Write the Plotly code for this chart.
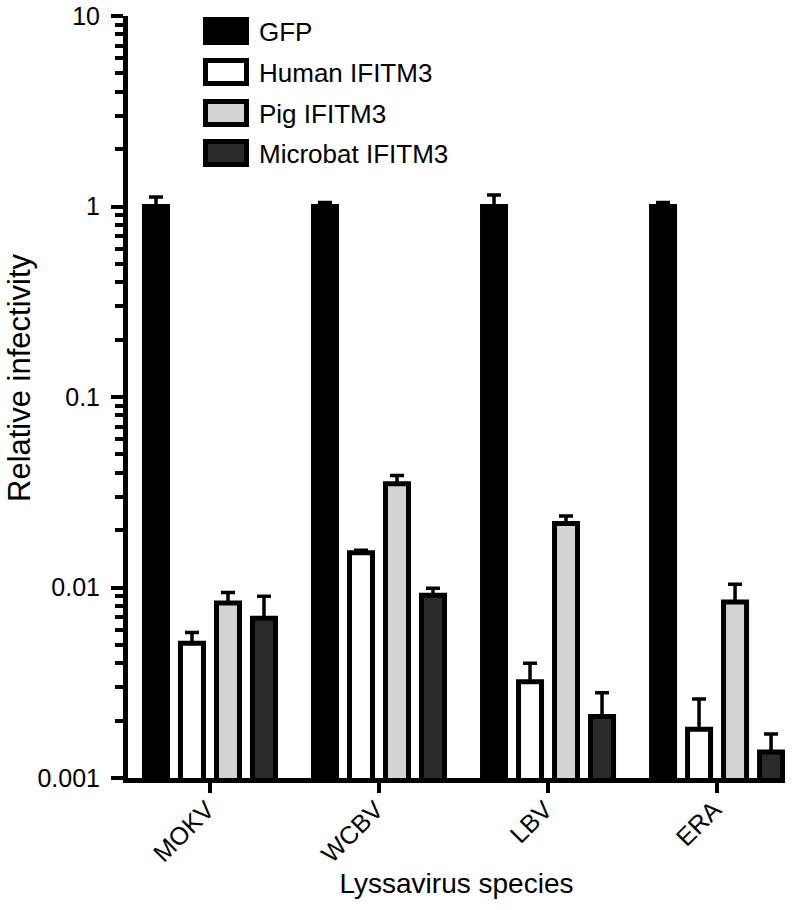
import plotly.graph_objects as go

categories = ["MOKV", "WCBV", "LBV", "ERA"]
series_names = ["GFP", "Human IFITM3", "Pig IFITM3", "Microbat IFITM3"]
gfp = [1.0, 1.0, 1.0, 1.0]
gfp_top = [1.12, 1.05, 1.15, 1.05]
human = [0.0051, 0.0152, 0.0032, 0.0018]
human_top = [0.0058, 0.0157, 0.0040, 0.0026]
pig = [0.0083, 0.035, 0.0217, 0.0084]
pig_top = [0.0094, 0.0387, 0.0237, 0.0104]
microbat = [0.0069, 0.0091, 0.0021, 0.00137]
microbat_top = [0.0090, 0.0099, 0.0028, 0.0017]
y_tickvals = [0.001, 0.01, 0.1, 1, 10]
y_ticktext = ["0.001", "0.01", "0.1", "1", "10"]

fills = ["#000000", "#ffffff", "#d3d3d3", "#2a2a2a"]
values = [gfp, human, pig, microbat]
tops = [gfp_top, human_top, pig_top, microbat_top]

FONT = "Liberation Sans, Arial, Helvetica, sans-serif"
W, H = 801, 910
# plot area in page pixels: x 128..785, y 16..778
L, R, T, B = 128, 801 - 785, 16, 910 - 778

fig = go.Figure()
for name, vals, top, col in zip(series_names, values, tops, fills):
    fig.add_trace(go.Bar(
        x=categories, y=vals, name=name,
        marker=dict(color=col, line=dict(color="#000000", width=5)),
        error_y=dict(type="data", symmetric=False,
                     array=[t - v for t, v in zip(top, vals)],
                     arrayminus=[0] * len(vals),
                     color="#000000", thickness=3.5, width=7),
        showlegend=False,
    ))

# custom legend (paper coordinates derived from pixel layout)
pw, ph = 785 - 128, 778 - 16
def px(x):
    return (x - 128) / pw
def py(y):
    return (778 - y) / ph

shapes = []
annotations = []
centers = [31, 72, 113, 153]
for name, col, cy in zip(series_names, fills, centers):
    shapes.append(dict(type="rect", xref="paper", yref="paper",
                       x0=px(205.5), x1=px(246.5), y0=py(cy - 11.5), y1=py(cy + 11.5),
                       fillcolor=col, line=dict(color="#000000", width=5)))
    annotations.append(dict(xref="paper", yref="paper", x=px(257), y=py(cy + 1),
                            xanchor="left", yanchor="middle", showarrow=False,
                            text=name, font=dict(family=FONT, size=26, color="#000")))

# y-axis title
annotations.append(dict(xref="paper", yref="paper", x=px(19), y=py(378),
                        xanchor="center", yanchor="middle", showarrow=False,
                        textangle=-90, text="Relative infectivity",
                        font=dict(family=FONT, size=31, color="#000")))

fig.update_layout(
    width=W, height=H,
    margin=dict(l=L, r=R, t=T, b=B),
    paper_bgcolor="white", plot_bgcolor="white",
    barmode="group", bargap=0.148, bargroupgap=0.361,
    font=dict(family=FONT, size=25, color="#000"),
    shapes=shapes, annotations=annotations,
    xaxis=dict(
        range=[-0.485, 3.402], automargin=False,
        showline=True, linecolor="#000", linewidth=5,
        ticks="outside", ticklen=10, tickwidth=4, tickcolor="#000",
        tickangle=-45, tickfont=dict(size=25),
        ticklabelstandoff=-8, ticklabelshift=-3,
        title=dict(text="Lyssavirus species", font=dict(size=28), standoff=8),
        showgrid=False, zeroline=False,
    ),
    yaxis=dict(
        type="log", range=[-3, 1], automargin=False,
        tickvals=y_tickvals, ticktext=y_ticktext,
        showline=True, linecolor="#000", linewidth=5,
        ticks="outside", ticklen=12, tickwidth=4, tickcolor="#000",
        tickfont=dict(size=25), ticklabelstandoff=6,
        minor=dict(ticks="outside", ticklen=8, tickwidth=3.5, tickcolor="#000",
                   dtick="D1", showgrid=False),
        showgrid=False, zeroline=False,
    ),
)

fig.write_html("out.html", config={"displayModeBar": False},
               post_script="document.body.style.margin='0px';")
